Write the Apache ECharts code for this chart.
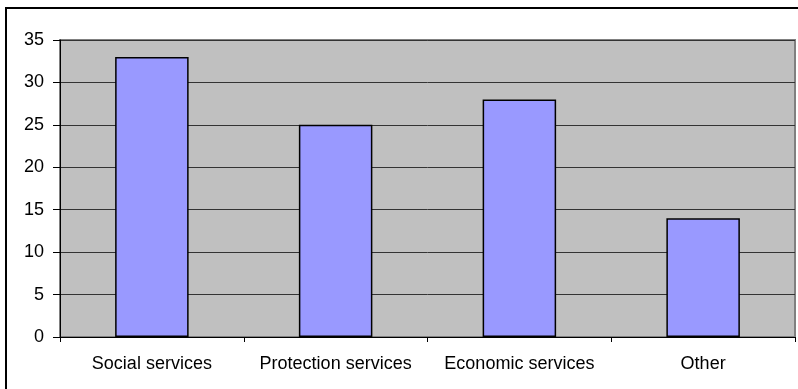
<!DOCTYPE html>
<html>
<head>
<meta charset="utf-8">
<style>
  html, body { margin: 0; padding: 0; background: #ffffff; }
  #chart { width: 798px; height: 389px; }
</style>
<script src="https://cdn.jsdelivr.net/npm/echarts@6/dist/echarts.min.js"></script>
</head>
<body>
<div id="chart"></div>
<script>
// Spending by service type
const categories = ['Social services', 'Protection services', 'Economic services', 'Other'];
const values = [33, 25, 28, 14];

const chart = echarts.init(document.getElementById('chart'), null, { renderer: 'canvas' });

const fontFamily = '"Liberation Sans", Arial, sans-serif';

chart.setOption({
  animation: false,
  backgroundColor: '#ffffff',
  graphic: [{
    type: 'rect',
    z: 100,
    silent: true,
    shape: { x: 6, y: 8, width: 900, height: 500 },
    style: { fill: 'none', stroke: '#000000', lineWidth: 2 }
  }],
  grid: {
    left: 60, top: 40, right: 3, bottom: 52,
    show: true,
    backgroundColor: '#c0c0c0',
    borderColor: '#808080',
    borderWidth: 2
  },
  xAxis: {
    type: 'category',
    data: categories,
    axisLine: { lineStyle: { color: '#000000', width: 1 } },
    axisTick: { show: true, interval: 0, alignWithLabel: false, length: 5, lineStyle: { color: '#000000' } },
    axisLabel: { interval: 0, color: '#000000', fontSize: 18, fontFamily: fontFamily, margin: 18 },
    splitLine: { show: false }
  },
  yAxis: {
    type: 'value',
    min: 0, max: 35, interval: 5,
    axisLine: { show: true, lineStyle: { color: '#000000', width: 1 } },
    axisTick: { show: true, length: 7, lineStyle: { color: '#000000' } },
    axisLabel: { color: '#000000', fontSize: 18, fontFamily: fontFamily, margin: 16 },
    splitLine: { show: true, lineStyle: { color: '#333333', width: 1 } }
  },
  series: [{
    type: 'bar',
    data: values,
    barWidth: '40%',
    itemStyle: { color: '#9999ff', borderColor: '#000000', borderWidth: 1.5 }
  }]
});
</script>
</body>
</html>
